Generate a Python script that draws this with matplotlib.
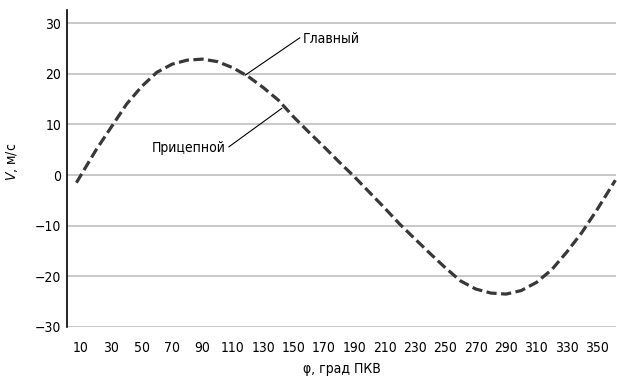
import matplotlib
matplotlib.use("Agg")
import matplotlib.pyplot as plt

# values
phi = [7, 20, 30, 40, 50, 60, 70, 80, 90, 100, 110, 120, 130, 140, 150, 160, 170, 180,
       190, 200, 210, 220, 230, 240, 250, 260, 270, 280, 290, 300, 310, 320, 330, 340,
       350, 362]
v = [-1.5, 5.0, 9.5, 14.0, 17.5, 20.3, 21.9, 22.7, 22.9, 22.4, 21.2, 19.5, 17.3, 14.8,
     11.5, 8.5, 5.6, 2.6, -0.3, -3.4, -6.5, -9.7, -12.6, -15.5, -18.3, -20.9, -22.5,
     -23.3, -23.5, -22.8, -21.2, -18.7, -15.2, -11.3, -6.8, -1.0]

xticks = list(range(10, 360, 20))
yticks = [-30, -20, -10, 0, 10, 20, 30]

plt.rcParams['font.family'] = ['DejaVu Sans']
plt.rcParams['font.stretch'] = 'condensed'
plt.rcParams['font.size'] = 10

fig = plt.figure(figsize=(6.17, 3.76), dpi=100)
ax = fig.add_axes([67 / 617, 49 / 376, 549 / 617, 317 / 376])

ax.plot(phi, v, color='#383838', lw=2.3, dashes=(3.2, 1.4), clip_on=False, zorder=3)

ax.set_xlim(0.8, 362.4)
ax.set_ylim(-30, 32.6)
ax.set_xticks(xticks)
ax.set_yticks(yticks)
ax.set_yticklabels([str(t).replace('-', '\u2212') for t in yticks])
ax.tick_params(length=0)
ax.tick_params(axis='x', pad=10)
ax.tick_params(axis='y', pad=4)

ax.yaxis.grid(True, color='#c8c8c8', lw=1.4)
ax.set_axisbelow(True)
for s in ['top', 'right', 'bottom']:
    ax.spines[s].set_visible(False)
ax.spines['left'].set_linewidth(1.2)

ax.set_xlabel('\u03c6, град ПКВ', labelpad=5)
ax.set_ylabel('$V$, м/с')
ax.yaxis.set_label_coords(-0.085, 0.52)

# leader lines to the curve
ax.annotate('Главный', xy=(118, 19.7), xytext=(156, 26.8), ha='left', va='center',
            arrowprops=dict(arrowstyle='-', color='black', lw=0.8, shrinkA=0, shrinkB=0,
                            relpos=(0, 0.75)))
ax.annotate('Прицепной', xy=(142.4, 13.2), xytext=(105.5, 5.3), ha='right', va='center',
            arrowprops=dict(arrowstyle='-', color='black', lw=0.8, shrinkA=0, shrinkB=0,
                            relpos=(1, 0.45)))

fig.savefig('out.png', dpi=100)
